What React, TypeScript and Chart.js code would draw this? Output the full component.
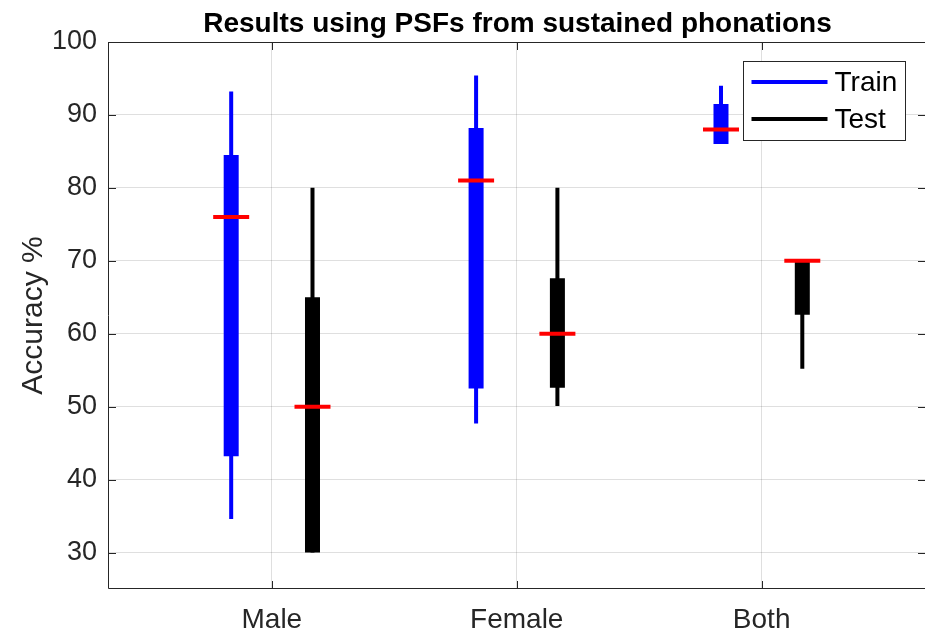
import React, { useEffect, useRef } from "react";
import { Chart, registerables } from "chart.js";

Chart.register(...registerables);

// Groups along the x axis and the two series in each group
const categories = ["Male", "Female", "Both"];
const seriesNames = ["Train", "Test"];
const seriesColors = ["#0000ff", "#000000"];

// Box-plot statistics per category (accuracy %)
const trainWhiskerLow = [34.6, 47.7, 86.0];
const trainBoxLow = [43.2, 52.5, 86.0];
const trainMedian = [76, 81, 88];
const trainBoxHigh = [84.5, 88.2, 91.5];
const trainWhiskerHigh = [93.2, 95.4, 94.0];

const testWhiskerLow = [30, 50.1, 55.2];
const testBoxLow = [30, 52.6, 62.6];
const testMedian = [50, 60, 70];
const testBoxHigh = [65.0, 67.6, 70];
const testWhiskerHigh = [80, 80, 70];

const yTicks = [30, 40, 50, 60, 70, 80, 90, 100];
const yMin = 25;
const yMax = 100;

const titleText = "Results using PSFs from sustained phonations";
const yLabelText = "Accuracy %";

const FONT = "'Liberation Sans', Arial, Helvetica, sans-serif";
const AXIS_COLOR = "#262626";
const GROUP_OFFSET = 0.166;

type Pt = { x: number; y: number | null };

function segments(lows: number[], highs: number[], offset: number): Pt[] {
  const pts: Pt[] = [];
  lows.forEach((lo, i) => {
    const x = i + 1 + offset;
    pts.push({ x, y: lo }, { x, y: highs[i] }, { x, y: null });
  });
  return pts;
}

function medians(values: number[], offset: number): Pt[] {
  return values.map((v, i) => ({ x: i + 1 + offset, y: v }));
}

// Axes frame with inward ticks, title, y label and legend
const decorPlugin = {
  id: "decor",
  afterDraw(chart: any) {
    const { ctx, chartArea, scales } = chart;
    const { left, right, top, bottom } = chartArea;
    const tl = 8;
    ctx.save();
    ctx.strokeStyle = AXIS_COLOR;
    ctx.lineWidth = 1;
    ctx.beginPath();
    // frame: the right side sits just past the canvas edge
    ctx.moveTo(right + 1, top + 0.5);
    ctx.lineTo(left + 0.5, top + 0.5);
    ctx.lineTo(left + 0.5, bottom - 0.5);
    ctx.lineTo(right + 1, bottom - 0.5);
    yTicks.forEach((t) => {
      const y = Math.round(scales.y.getPixelForValue(t)) + 0.5;
      ctx.moveTo(left, y);
      ctx.lineTo(left + tl, y);
      ctx.moveTo(right + 1, y);
      ctx.lineTo(right + 1 - tl, y);
    });
    categories.forEach((_, i) => {
      const x = Math.round(scales.x.getPixelForValue(i + 1)) + 0.5;
      ctx.moveTo(x, bottom);
      ctx.lineTo(x, bottom - tl);
      ctx.moveTo(x, top);
      ctx.lineTo(x, top + tl);
    });
    ctx.stroke();

    // title
    ctx.fillStyle = "#000000";
    ctx.font = `bold 28px ${FONT}`;
    ctx.textAlign = "center";
    ctx.textBaseline = "alphabetic";
    ctx.fillText(titleText, (left + right) / 2 + 1, 32);

    // y label
    ctx.fillStyle = AXIS_COLOR;
    ctx.font = `30px ${FONT}`;
    ctx.translate(42, (top + bottom) / 2);
    ctx.rotate(-Math.PI / 2);
    ctx.textAlign = "center";
    ctx.fillText(yLabelText, 0, 0);
    ctx.setTransform(1, 0, 0, 1, 0, 0);

    // legend
    const lx = 743.5;
    const ly = 61.5;
    const lw = 162;
    const lh = 79;
    ctx.fillStyle = "#ffffff";
    ctx.fillRect(lx, ly, lw, lh);
    ctx.strokeStyle = AXIS_COLOR;
    ctx.lineWidth = 1;
    ctx.strokeRect(lx, ly, lw, lh);
    seriesNames.forEach((name, i) => {
      const cy = ly + 20.5 + i * 37;
      ctx.strokeStyle = seriesColors[i];
      ctx.lineWidth = 4;
      ctx.beginPath();
      ctx.moveTo(lx + 8, cy);
      ctx.lineTo(lx + 84, cy);
      ctx.stroke();
      ctx.fillStyle = "#000000";
      ctx.font = `28px ${FONT}`;
      ctx.textAlign = "left";
      ctx.textBaseline = "middle";
      ctx.fillText(name, lx + 91, cy + 1);
    });
    ctx.restore();
  },
};

export default function App() {
  const ref = useRef<HTMLCanvasElement | null>(null);

  useEffect(() => {
    if (!ref.current) return;
    const stats = [
      { wl: trainWhiskerLow, bl: trainBoxLow, med: trainMedian, bh: trainBoxHigh, wh: trainWhiskerHigh, off: -GROUP_OFFSET },
      { wl: testWhiskerLow, bl: testBoxLow, med: testMedian, bh: testBoxHigh, wh: testWhiskerHigh, off: GROUP_OFFSET },
    ];
    const datasets: any[] = [];
    stats.forEach((s, i) => {
      datasets.push({
        label: seriesNames[i] + " whisker",
        data: segments(s.wl, s.wh, s.off),
        showLine: true,
        spanGaps: false,
        borderColor: seriesColors[i],
        borderWidth: 4,
        pointRadius: 0,
        order: 3,
      });
      datasets.push({
        label: seriesNames[i] + " box",
        data: segments(s.bl, s.bh, s.off),
        showLine: true,
        spanGaps: false,
        borderColor: seriesColors[i],
        borderWidth: 15,
        pointRadius: 0,
        order: 2,
      });
      datasets.push({
        label: seriesNames[i] + " median",
        data: medians(s.med, s.off),
        showLine: false,
        pointStyle: "line",
        pointRadius: 18,
        pointBorderColor: "#ff0000",
        pointBorderWidth: 4,
        borderColor: "#ff0000",
        order: 1,
      });
    });

    const chart = new Chart(ref.current, {
      type: "scatter",
      data: { datasets },
      plugins: [decorPlugin],
      options: {
        animation: false,
        responsive: false,
        layout: { autoPadding: false, padding: { top: 42, right: 0, left: 0, bottom: 0 } },
        plugins: {
          legend: { display: false },
          tooltip: { enabled: false },
          title: { display: false },
        },
        scales: {
          x: {
            type: "linear",
            min: 0.331,
            max: 3.667,
            afterBuildTicks: (scale: any) => {
              scale.ticks = categories.map((_, i) => ({ value: i + 1 }));
            },
            afterFit: (scale: any) => {
              scale.height = 46;
              scale.paddingLeft = 0;
              scale.paddingRight = 0;
            },
            ticks: {
              autoSkip: false,
              maxRotation: 0,
              padding: 14,
              color: AXIS_COLOR,
              font: { family: FONT, size: 28 },
              callback: (v: any) => categories[Math.round(Number(v)) - 1] ?? "",
            },
            grid: { color: "rgba(38,38,38,0.15)", drawTicks: false, lineWidth: 1 },
            border: { display: false },
          },
          y: {
            type: "linear",
            min: yMin,
            max: yMax,
            afterBuildTicks: (scale: any) => {
              scale.ticks = yTicks.map((v) => ({ value: v }));
            },
            afterFit: (scale: any) => {
              scale.width = 108;
              scale.paddingTop = 0;
              scale.paddingBottom = 0;
            },
            ticks: {
              padding: 11,
              color: AXIS_COLOR,
              font: { family: FONT, size: 27 },
            },
            grid: { color: "rgba(38,38,38,0.15)", drawTicks: false, lineWidth: 1 },
            border: { display: false },
          },
        },
      },
    });
    return () => chart.destroy();
  }, []);

  return (
    <div style={{ position: "fixed", left: 0, top: 0, width: 925, height: 635, background: "#ffffff" }}>
      <canvas ref={ref} width={925} height={635} style={{ display: "block" }} />
    </div>
  );
}
